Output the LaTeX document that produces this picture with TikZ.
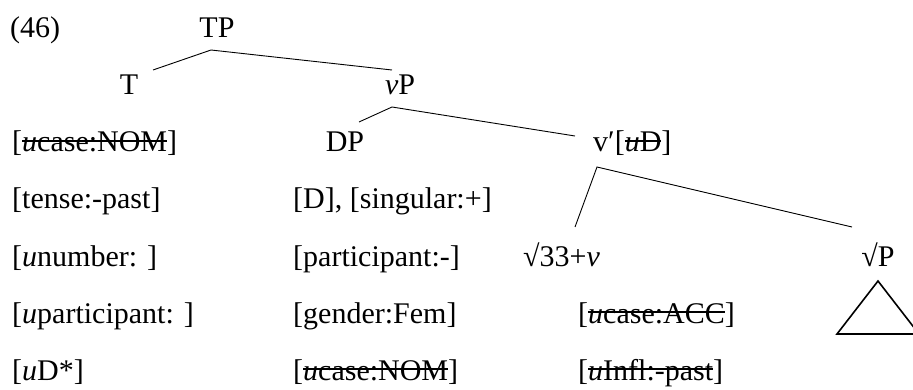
\documentclass[tikz,border=0pt]{standalone}
\usepackage{fontspec}
\setmainfont{Liberation Serif}
\newlength\strklen
\newcommand\strk[1]{\settowidth{\strklen}{#1}\rlap{\rule[0.33em]{\strklen}{0.06em}}#1}
\begin{document}
\begin{tikzpicture}[x=1pt,y=-1pt,
  lbl/.style={inner sep=0pt,anchor=base,font=\fontsize{30}{36}\selectfont},
  feat/.style={inner sep=0pt,anchor=base west,font=\fontsize{30}{36}\selectfont},
  branch/.style={line width=0.9pt},
  tri/.style={line width=1.6pt,line join=miter}]
\useasboundingbox (0,0) rectangle (913,390);
% tree labels
\node[feat] (ex) at (10,38) {(46)};
\node[lbl] (TP) at (217,38) {TP};
\node[lbl] (T) at (129,95) {T};
\node[lbl] (vP) at (400,95) {\textit{v}P};
\node[lbl] (DP) at (345,152) {DP};
\node[feat] (vbar) at (593,152) {v′[\strk{\textit{u}D}]};
\node[feat] (r33) at (523,266) {√33+\textit{v}};
\node[lbl] (rP) at (878,266) {√P};
% feature column 1
\node[feat] (a1) at (12,152) {[\strk{\textit{u}case:NOM}]};
\node[feat] (a2) at (12,209) {[tense:-past]};
\node[feat] (a3) at (12,266) {[\textit{u}number: ]};
\node[feat] (a4) at (12,323) {[\textit{u}participant: ]};
\node[feat] (a5) at (12,380) {[\textit{u}D*]};
% feature column 2
\node[feat] (b1) at (293,209) {[D], [singular:+]};
\node[feat] (b2) at (293,266) {[participant:-]};
\node[feat] (b3) at (293,323) {[gender:Fem]};
\node[feat] (b4) at (293,380) {[\strk{\textit{u}case:NOM}]};
% feature column 3
\node[feat] (c1) at (578,323) {[\strk{\textit{u}case:ACC}]};
\node[feat] (c2) at (578,380) {[\strk{\textit{u}Infl:-past}]};
% branches
\draw[branch] ([shift={(24pt,25pt)}]T.base) -- ([shift={(-6pt,-12pt)}]TP.base) -- ([shift={(-8pt,25pt)}]vP.base);
\draw[branch] ([shift={(14pt,30pt)}]DP.base) -- ([shift={(-8pt,-12pt)}]vP.base) -- ([shift={(-18pt,16pt)}]vbar.base west);
\draw[branch] ([shift={(52pt,39pt)}]r33.base west) -- ([shift={(4pt,-15pt)}]vbar.base west) -- ([shift={(-26pt,39pt)}]rP.base);
% triangle under root P
\draw[tri] ([yshift=-15pt]rP.base) -- ++(-41pt,-53pt) -- ++(82pt,0pt) -- cycle;
\end{tikzpicture}
\end{document}
